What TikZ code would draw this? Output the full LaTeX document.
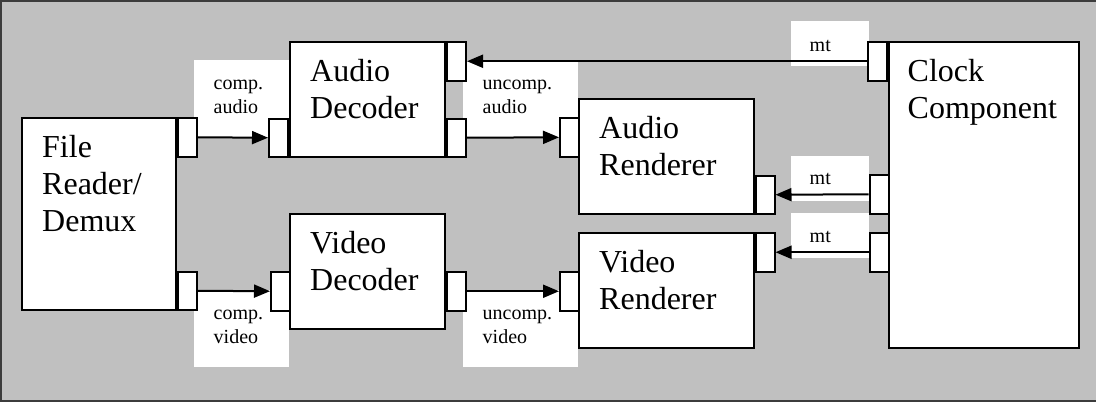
\documentclass[tikz,border=0pt]{standalone}
\usepackage{fontspec}
\setmainfont{Liberation Serif}
\usetikzlibrary{arrows.meta,positioning}
\definecolor{panel}{RGB}{192,192,192}
\definecolor{rim}{RGB}{60,60,60}

\begin{document}
\begin{tikzpicture}[x=1pt,y=-1pt,
  block/.style={draw, fill=white, line width=2pt, inner sep=0pt, anchor=north west},
  port/.style={block, minimum width=19pt, minimum height=38.5pt},
  boxtext/.style={inner sep=0pt, anchor=north west, align=left, font=\fontsize{32}{37}\selectfont},
  flowtext/.style={inner sep=0pt, anchor=north west, align=left, font=\fontsize{20}{24}\selectfont},
  flow/.style={line width=2pt, -{Triangle[length=16pt,width=13pt]}}]
\useasboundingbox (0,0) rectangle (1096,402);
% Background
\fill[panel] (0,0) rectangle (1096,402);
\draw[rim, line width=2.5pt] (1096,1) -- (1,1) -- (1,401) -- (1096,401);

% Label backgrounds
\fill[white] (194,60) rectangle (289,137);
\fill[white] (463,61) rectangle (578,137);
\fill[white] (194,290) rectangle (289,367);
\fill[white] (463,290) rectangle (578,367);
\fill[white] (790.5,21) rectangle (868.5,66);
\fill[white] (790.5,156) rectangle (868.5,201);
\fill[white] (790.5,213) rectangle (868.5,258);

% Components
\node[block, minimum width=154pt, minimum height=192pt] (fr) at (21,117) {};
\node[block, minimum width=155pt, minimum height=115pt] (ad) at (289,41) {};
\node[block, minimum width=155pt, minimum height=115pt] (vd) at (289,213) {};
\node[block, minimum width=174.5pt, minimum height=115pt] (ar) at (578,98) {};
\node[block, minimum width=174.5pt, minimum height=115pt] (vr) at (578,232) {};
\node[block, minimum width=190.5pt, minimum height=306pt] (cc) at (887.5,41) {};

% Ports
\node[port] (frA) at (fr.north east) {};
\node[port, anchor=south west] (frV) at (fr.south east) {};
\node[port, anchor=south east] (adIn) at (ad.south west) {};
\node[port] (adT) at (ad.north east) {};
\node[port, anchor=south west] (adOut) at (ad.south east) {};
\node[port] (vdIn) at (270,271) {};
\node[port] (vdOut) at (vd.east |- vdIn.north) {};
\node[port] (arIn) at (559,117) {};
\node[port, anchor=south west] (arOut) at (ar.south east) {};
\node[port] (vrIn) at (559,271) {};
\node[port] (vrOut) at (vr.north east) {};
\node[port, anchor=north east] (ccA) at (cc.north west) {};
\node[port] (ccB) at (868.5,174) {};
\node[port] (ccC) at (868.5,232) {};

% Names
\node[boxtext, below right=14pt and 21pt of fr.north west] (frText) {\strut File\\Reader/\\Demux};
\node[boxtext, below right=14pt and 21pt of ad.north west] (adText) {\strut Audio\\Decoder};
\node[boxtext, below right=14pt and 21pt of vd.north west] (vdText) {\strut Video\\Decoder};
\node[boxtext, below right=14pt and 21pt of ar.north west] (arText) {\strut Audio\\Renderer};
\node[boxtext, below right=14pt and 21pt of vr.north west] (vrText) {\strut Video\\Renderer};
\node[boxtext, below right=14pt and 20pt of cc.north west] (ccText) {\strut Clock\\Component};

% Streams
\draw[flow] (frA) -- (adIn);
\draw[flow] (frV) -- (vdIn);
\draw[flow] (adOut) -- (arIn);
\draw[flow] (vdOut) -- (vrIn);
\draw[flow] (ccA) -- (adT);
\draw[flow] (ccB) -- (arOut);
\draw[flow] (ccC) -- (vrOut);

\node[flowtext] (caText) at (213.5,72.5) {\strut comp.\\audio};
\node[flowtext] (uaText) at (482.5,72.5) {\strut uncomp.\\audio};
\node[flowtext] (cvText) at (213.5,302.7) {\strut comp.\\video};
\node[flowtext] (uvText) at (482.5,302.7) {\strut uncomp.\\video};
\node[flowtext] (mtA) at (809.5,34.7) {\strut mt};
\node[flowtext] (mtB) at (809.5,167.7) {\strut mt};
\node[flowtext] (mtC) at (809.5,225.2) {\strut mt};
\end{tikzpicture}
\end{document}
